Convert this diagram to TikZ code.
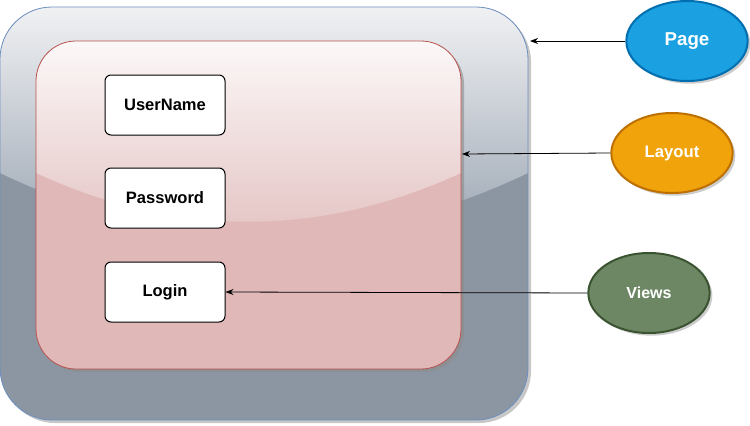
\documentclass[tikz,border=0pt]{standalone}
\usepackage{fontspec}
\setmainfont{Liberation Sans}
\usetikzlibrary{shapes.geometric,shadows,arrows.meta}
\definecolor{pageblue}{HTML}{1BA1E2}
\definecolor{pageline}{HTML}{006EAF}
\definecolor{layoutorange}{HTML}{F0A30A}
\definecolor{layoutline}{HTML}{BD7000}
\definecolor{viewsgreen}{HTML}{6D8764}
\definecolor{viewsline}{HTML}{3A5431}
\definecolor{screenbase}{HTML}{8C96A3}
\definecolor{screenline}{HTML}{6C8EBF}
\definecolor{formbase}{HTML}{E0B8B8}
\definecolor{formline}{HTML}{B85450}
\tikzset{
	field/.style={draw, fill=white, rounded corners=4.5pt, line width=0.75pt,
		minimum width=90pt, minimum height=45pt, inner sep=0pt,
		font=\bfseries\fontsize{12.4}{14}\selectfont},
	tag/.style={ellipse, draw, line width=1.5pt, inner sep=0pt,
		minimum width=91pt, minimum height=60pt, text=white,
		drop shadow={shadow xshift=2pt, shadow yshift=-2pt, fill=black!40, opacity=0.5}},
	link/.style={-{Stealth[length=6pt,width=4.5pt]}, line width=0.6pt}
}
\begin{document}
\begin{tikzpicture}[x=0.75pt, y=-0.75pt]
	\useasboundingbox (0,0) rectangle (750,425);
	% page frame
	\fill[black!22, rounded corners=39pt] (3,10) rectangle (531,423);
	\begin{scope}
		\clip[rounded corners=39pt] (0,7) rectangle (528,420);
		\fill[screenbase] (0,7) rectangle (528,420);
		\shade[top color={rgb,255:red,240;green,241;blue,243}, bottom color={rgb,255:red,149;green,160;blue,174}]
			(0,7) -- (0,173) .. controls (176,257) and (352,257) .. (528,173) -- (528,7) -- cycle;
	\end{scope}
	\draw[screenline, line width=0.6pt, rounded corners=39pt] (0,7) rectangle (528,420);
	% layout frame
	\fill[black!45, opacity=0.6, rounded corners=30pt] (39,44) rectangle (464,372);
	\begin{scope}
		\clip[rounded corners=30pt] (36,41) rectangle (461,369);
		\fill[formbase] (36,41) rectangle (461,369);
		\shade[top color={rgb,255:red,252;green,248;blue,248}, bottom color={rgb,255:red,228;green,195;blue,195}]
			(36,41) -- (36,173) .. controls (177,238) and (319,238) .. (461,173) -- (461,41) -- cycle;
	\end{scope}
	\draw[formline, line width=0.6pt, rounded corners=30pt] (36,41) rectangle (461,369);
	\coordinate (pageedge) at (530,41);
	\coordinate (layoutedge) at (462,154);
	% views
	\node[field] (username) at (165,105) {UserName};
	\node[field] (password) at (165,198) {Password};
	\node[field] (login) at (165,292) {Login};
	% legend
	\node[tag, fill=pageblue, draw=pageline, font=\bfseries\fontsize{14}{16}\selectfont] (page) at (687,41) {Page};
	\node[tag, fill=layoutorange, draw=layoutline, font=\bfseries\fontsize{12.5}{14}\selectfont] (layout) at (672,153) {Layout};
	\node[tag, fill=viewsgreen, draw=viewsline, font=\bfseries\fontsize{12}{14}\selectfont] (views) at (649,293) {Views};
	\draw[link] (page) -- (pageedge);
	\draw[link] (layout.west) -- (layoutedge);
	\draw[link] (views.west) -- (login.east);
\end{tikzpicture}
\end{document}
